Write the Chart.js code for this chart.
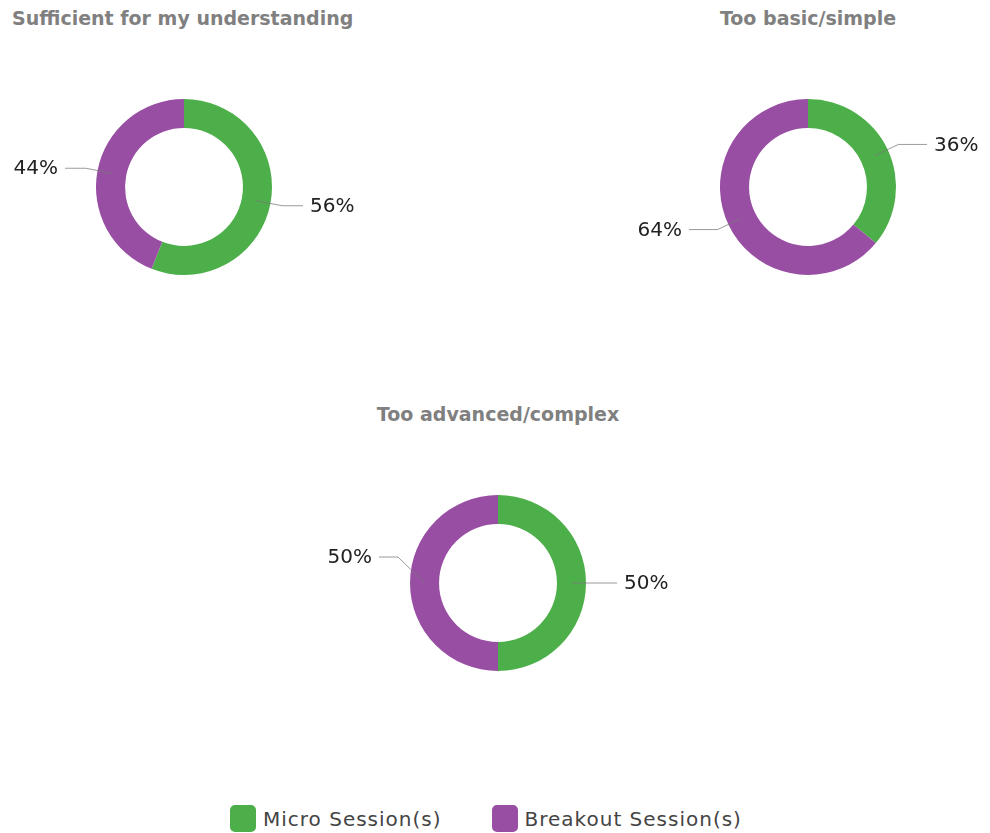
<!DOCTYPE html>
<html>
<head>
<meta charset="utf-8">
<script src="https://cdn.jsdelivr.net/npm/chart.js@4.4.1/dist/chart.umd.min.js"></script>
<style>
  html, body { margin: 0; padding: 0; background: #fff; }
  body { width: 990px; height: 833px; position: relative; overflow: hidden; font-family: "DejaVu Sans", sans-serif; }
  .title { position: absolute; font-weight: bold; font-size: 19px; color: #808080; white-space: nowrap; }
  .box { position: absolute; width: 362px; height: 240px; }
  .legend { position: absolute; top: 805px; left: 230px; display: flex; align-items: center; font-size: 20px; letter-spacing: 1px; color: #444; }
  .legend .item { display: flex; align-items: center; margin-right: 50px; }
  .legend .sw { width: 26px; height: 27px; border-radius: 5px; margin-right: 7px; }
</style>
</head>
<body>
<div class="title" id="t0" style="left:12px; top:7px;"></div>
<div class="title" id="t1" style="left:808px; top:7px; transform:translateX(-50%);"></div>
<div class="title" id="t2" style="left:498px; top:403px; transform:translateX(-50%);"></div>
<div class="box" style="left:3px; top:67px;"><canvas id="c0"></canvas></div>
<div class="box" style="left:627px; top:67px;"><canvas id="c1"></canvas></div>
<div class="box" style="left:317px; top:463px;"><canvas id="c2"></canvas></div>
<div class="legend" id="legend"></div>
<script>
// categories & values (percent of responses)
const sessionLabels = ['Micro Session(s)', 'Breakout Session(s)'];
const sessionColors = ['#4DAF4A', '#984EA3'];
const chartTitles = ['Sufficient for my understanding', 'Too basic/simple', 'Too advanced/complex'];
const sufficientVals = [56, 44];
const basicVals = [36, 64];
const advancedVals = [50, 50];

/* outside labels with leader lines */
const outLabels = {
  id: 'outLabels',
  afterDatasetsDraw(chart, args, opts) {
    const ctx = chart.ctx;
    const meta = chart.getDatasetMeta(0);
    const vals = chart.data.datasets[0].data;
    meta.data.forEach((arc, i) => {
      const p = arc.getProps(['x', 'y', 'startAngle', 'endAngle', 'innerRadius', 'outerRadius'], true);
      const mid = (p.startAngle + p.endAngle) / 2;
      const rMid = (p.innerRadius + p.outerRadius) / 2;
      const shift = (opts.shift && opts.shift[i]) || 0;
      const ax = p.x + Math.cos(mid) * rMid, ay = p.y + Math.sin(mid) * rMid;
      const ex = p.x + Math.cos(mid) * (p.outerRadius + 12);
      const ey = p.y + Math.sin(mid) * (p.outerRadius + 12) + shift;
      const right = Math.cos(mid) >= 0;
      const lx = p.x + (right ? 1 : -1) * (p.outerRadius + 31);
      ctx.save();
      ctx.strokeStyle = 'rgba(120,120,120,0.75)';
      ctx.lineWidth = 1;
      ctx.beginPath();
      ctx.moveTo(ax, ay);
      ctx.lineTo(ex, ey);
      ctx.lineTo(lx, ey);
      ctx.stroke();
      ctx.fillStyle = '#222';
      ctx.font = '20px "DejaVu Sans", sans-serif';
      ctx.textBaseline = 'middle';
      ctx.textAlign = right ? 'left' : 'right';
      ctx.fillText(vals[i] + '%', lx + (right ? 7 : -7), ey + 1);
      ctx.restore();
    });
  }
};

function makeDonut(id, values, shift) {
  return new Chart(document.getElementById(id), {
    type: 'doughnut',
    data: {
      labels: sessionLabels,
      datasets: [{ data: values, backgroundColor: sessionColors, borderWidth: 0 }]
    },
    options: {
      responsive: true, maintainAspectRatio: false, animation: false,
      cutout: '67%',
      layout: { padding: { top: 32, bottom: 32 } },
      plugins: { legend: { display: false }, tooltip: { enabled: false }, outLabels: { shift } }
    },
    plugins: [outLabels]
  });
}

chartTitles.forEach((t, i) => { document.getElementById('t' + i).textContent = t; });
makeDonut('c0', sufficientVals, [0, 0]);
makeDonut('c1', basicVals, [0, 0]);
makeDonut('c2', advancedVals, [0, -26]);

const legend = document.getElementById('legend');
sessionLabels.forEach((lab, i) => {
  const item = document.createElement('div');
  item.className = 'item';
  item.innerHTML = `<span class="sw" style="background:${sessionColors[i]}"></span><span>${lab}</span>`;
  legend.appendChild(item);
});
</script>
</body>
</html>
